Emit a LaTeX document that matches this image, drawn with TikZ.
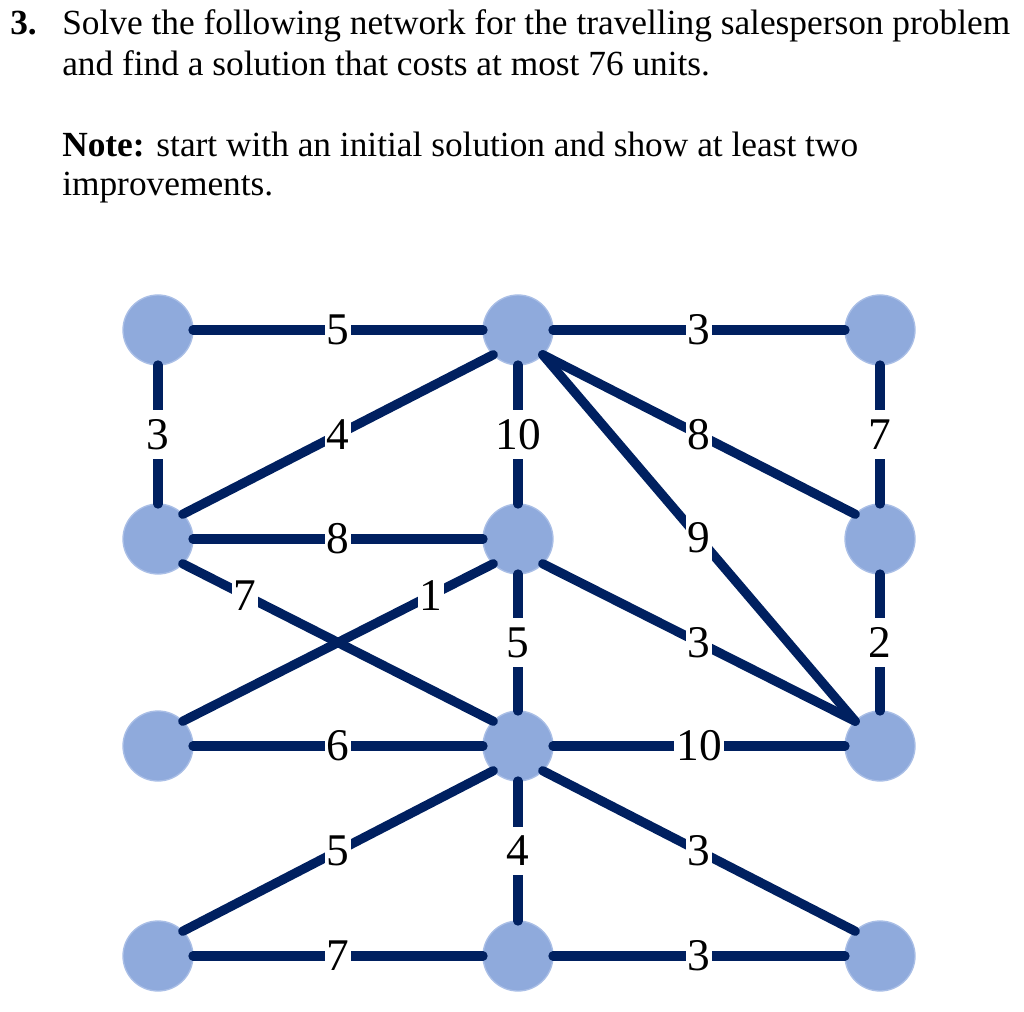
\documentclass[tikz,border=0pt]{standalone}
\usepackage{fontspec}
\setmainfont{Liberation Serif}
\definecolor{edgeblue}{HTML}{002060}
\definecolor{nodeblue}{HTML}{8FAADC}
\definecolor{nodeedge}{HTML}{A9BEE6}
\begin{document}
\begin{tikzpicture}[x=0.75pt,y=-0.75pt,
  vtx/.style={circle,fill=nodeblue,draw=nodeedge,line width=1pt,minimum size=52.5pt,inner sep=0pt,outer sep=0pt},
  edge/.style={draw=edgeblue,line width=7pt,line cap=round},
  lbl/.style={fill=white,inner xsep=1.5pt,inner ysep=7pt,font=\fontsize{34}{36}\selectfont,text=black},
  ttl/.style={anchor=base west,inner sep=0pt,font=\fontsize{26.5}{30}\selectfont}]
\useasboundingbox (0,0) rectangle (1024,1012);
% title
\node[ttl] (num) at (10,35) {\textbf{3.}};
\node[ttl] (t1) at (62,35) {Solve the following network for the travelling salesperson problem};
\node[ttl] (t2) at (62,76) {and find a solution that costs at most 76 units.};
\node[ttl] (t3) at (62,157) {\textbf{Note:} start with an initial solution and show at least two};
\node[ttl] (t4) at (62,196) {improvements.};
% vertices
\node[vtx] (A1) at (158,330) {};
\node[vtx] (B1) at (518,330) {};
\node[vtx] (C1) at (880,330) {};
\node[vtx] (A2) at (158,539) {};
\node[vtx] (B2) at (518,539) {};
\node[vtx] (C2) at (880,539) {};
\node[vtx] (A3) at (158,746) {};
\node[vtx] (B3) at (518,746) {};
\node[vtx] (C3) at (880,746) {};
\node[vtx] (A4) at (158,956) {};
\node[vtx] (B4) at (518,956) {};
\node[vtx] (C4) at (880,956) {};
% edges
\path[edge] (A1.east) -- node[lbl] (l1) {5} (B1.west);
\path[edge] (B1.east) -- node[lbl] (l2) {3} (C1.west);
\path[edge] (A1.south) -- node[lbl] (l3) {3} (A2.north);
\path[edge] (B1.south west) -- node[lbl] (l4) {4} (A2.north east);
\path[edge] (B1.south) -- node[lbl] (l5) {10} (B2.north);
\path[edge] (B1.south east) -- node[lbl] (l6) {8} (C2.north west);
\path[edge] (B1.south east) -- node[lbl] (l7) {9} (C3.north west);
\path[edge] (C1.south) -- node[lbl] (l8) {7} (C2.north);
\path[edge] (A2.east) -- node[lbl] (l9) {8} (B2.west);
\path[edge] (A2.south east) -- node[lbl,pos=0.2] (l10) {7} (B3.north west);
\path[edge] (B2.south west) -- node[lbl,pos=0.2] (l11) {1} (A3.north east);
\path[edge] (B2.south) -- node[lbl] (l12) {5} (B3.north);
\path[edge] (B2.south east) -- node[lbl] (l13) {3} (C3.north west);
\path[edge] (C2.south) -- node[lbl] (l14) {2} (C3.north);
\path[edge] (A3.east) -- node[lbl] (l15) {6} (B3.west);
\path[edge] (B3.east) -- node[lbl] (l16) {10} (C3.west);
\path[edge] (B3.south west) -- node[lbl] (l17) {5} (A4.north east);
\path[edge] (B3.south) -- node[lbl] (l18) {4} (B4.north);
\path[edge] (B3.south east) -- node[lbl] (l19) {3} (C4.north west);
\path[edge] (A4.east) -- node[lbl] (l20) {7} (B4.west);
\path[edge] (B4.east) -- node[lbl] (l21) {3} (C4.west);
\end{tikzpicture}
\end{document}
